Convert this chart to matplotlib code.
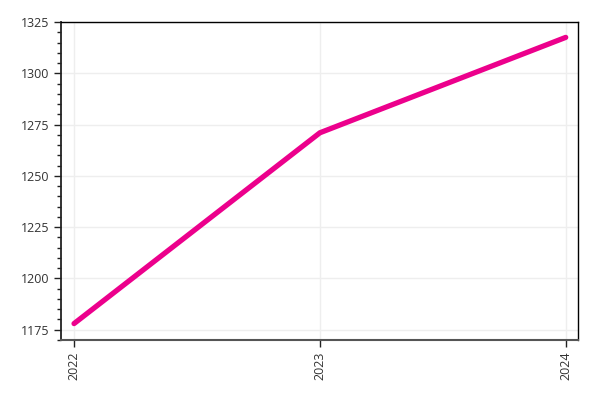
import matplotlib
matplotlib.use("Agg")
import matplotlib.pyplot as plt
from matplotlib.ticker import MultipleLocator

years = [2022, 2023, 2024]
values = [1178, 1271, 1317.5]

plt.rcParams["font.family"] = ["Open Sans", "DejaVu Sans"]

fig = plt.figure(figsize=(6, 4), dpi=100)
ax = fig.add_axes([61 / 600, 60 / 400, 517 / 600, 318 / 400])

ax.plot(years, values, color="#ec008c", linewidth=3.8, solid_capstyle="round")

ax.set_xlim(2021.947, 2024.05)
ax.set_ylim(1170, 1325)
ax.set_xticks(years)
ax.set_xticklabels([str(y) for y in years], rotation=90)
ax.yaxis.set_major_locator(MultipleLocator(25))
ax.yaxis.set_minor_locator(MultipleLocator(5))
ax.tick_params(axis="y", which="major", length=5, width=1, labelsize=9, color="#222222", labelcolor="#333333")
ax.tick_params(axis="y", which="minor", length=3, width=1, color="#222222")
ax.tick_params(axis="x", which="major", length=5, width=1, labelsize=9, color="#222222", labelcolor="#333333")

ax.grid(True, color="#eeeeee", linewidth=1)
ax.set_axisbelow(True)

ax.spines["left"].set_linewidth(1.3)
ax.spines["left"].set_color("#222222")
ax.spines["bottom"].set_linewidth(1.5)
ax.spines["bottom"].set_color("#555555")
ax.spines["top"].set_linewidth(1)
ax.spines["right"].set_linewidth(1)

fig.savefig("out.png", dpi=100)
